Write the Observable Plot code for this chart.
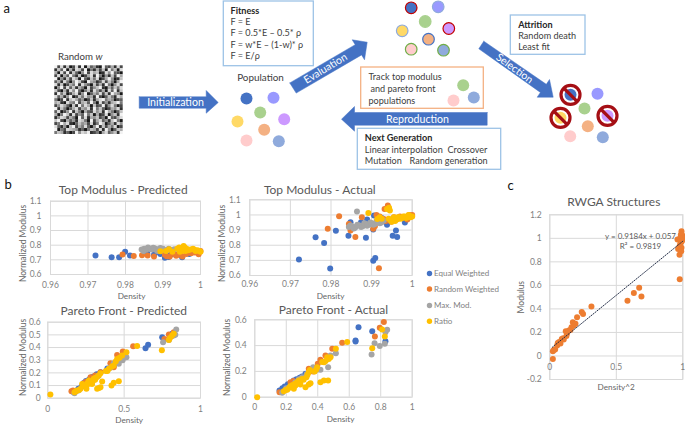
<!DOCTYPE html>
<html>
<head>
<meta charset="utf-8">
<script src="https://cdn.jsdelivr.net/npm/d3@7"></script>
<script src="https://cdn.jsdelivr.net/npm/@observablehq/plot@0.6"></script>
<style>
html,body{margin:0;padding:0;background:#fff;overflow:hidden}
#stage{position:relative;width:685px;height:425px}
#stage svg{position:absolute;left:0;top:0;background:transparent}
</style>
</head>
<body>
<div id="stage"></div>
<script>
// ---------- data ----------
const seriesNames = ["Equal Weighted","Random Weighted","Max. Mod.","Ratio"];
const seriesColors = ["#4472c4","#ed7d31","#a5a5a5","#ffc000"];

const topPred = [
 [[.972,.73],[.9763,.717],[.9783,.717],[.9799,.755],[.9812,.73],[.9858,.745],[.9876,.735],[.9893,.74],[.9905,.715],[.9915,.72],[.9935,.735],[.9951,.718],[.997,.74],[.992,.735],[.988,.75]],
 [[.9792,.736],[.9822,.726],[.9844,.731],[.9859,.73],[.9876,.722],[.9905,.735],[.9918,.722],[.9925,.745],[.9932,.738],[.9941,.735],[.9952,.722],[.9962,.74],[.9975,.745],[.9995,.738],[1,.76],[.991,.725],[.9935,.728],[.9945,.745],[.9985,.75]],
 [[.9843,.77],[.985,.775],[.9855,.768],[.986,.785],[.9865,.775],[.987,.77],[.9874,.782],[.9878,.778],[.9882,.768],[.9886,.772],[.9893,.78],[.9897,.768],[.99,.775],[.9908,.765],[.9915,.775],[.9922,.768],[.993,.772],[.9848,.76],[.9885,.76]],
 [[.9893,.758],[.9916,.772],[.9908,.76],[.9938,.775],[.9945,.755],[.9943,.785],[.9948,.77],[.9955,.795],[.9952,.77],[.9958,.785],[.996,.76],[.9963,.775],[.9967,.765],[.9973,.77],[.998,.776],[.9984,.768],[.9987,.76],[.9992,.765],[.9997,.76],[1,.755],[.9925,.755],[.995,.76]]
];
const topActual = [
 [[.9721,.706],[.9798,.646],[.9762,.853],[.9783,.814],[.9812,.895],[.9843,.862],[.9848,.952],[.9858,.915],[.9874,.952],[.9886,.849],[.9889,.97],[.9904,.904],[.9904,.697],[.9909,.715],[.9906,.996],[.9938,.935],[.9952,.862],[.996,.897],[.9963,.855],[.9982,.95],[.9925,.98],[.9945,.97]],
 [[.9792,.908],[.982,.992],[.9844,.94],[.9848,.897],[.986,.855],[.9876,.985],[.9904,.908],[.9918,.648],[.9912,1.0],[.9932,1.04],[.994,1.062],[.993,.974],[.9918,.985],[.9955,.985],[.9965,.975],[.997,.99],[.998,.985],[1,1.0],[.9988,.97],[.992,.99],[.9948,.955],[.9935,.96],[.9993,1.0],[.9908,.925]],
 [[.9864,1.023],[.9844,.92],[.9848,.93],[.9852,.925],[.9856,.91],[.986,.918],[.9865,.935],[.987,.93],[.9874,.92],[.9878,.925],[.9882,.945],[.9886,.94],[.9889,.928],[.9893,.935],[.9897,.95],[.99,.945],[.9904,.935],[.9908,.94],[.9912,.96],[.9916,.955],[.992,.945],[.9924,.95],[.993,.963]],
 [[.9892,1.012],[.9914,.974],[.992,.985],[.9925,.975],[.9943,1.047],[.9945,1.03],[.9938,1.04],[.9947,.963],[.9942,.975],[.995,.955],[.9955,.975],[.9958,.96],[.9962,.97],[.9965,.985],[.9968,.985],[.9972,.975],[.9975,.98],[.9978,.99],[.9982,.99],[.9985,.98],[.9988,.985],[.9991,1.0],[.9993,.995],[.9996,.985],[1,.99],[.9955,.985]]
];
const paretoPred = [
 [[.17,.047],[.2,.075],[.22,.09],[.236,.12],[.25,.135],[.269,.145],[.28,.16],[.29,.165],[.301,.171],[.32,.19],[.345,.205],[.39,.235],[.432,.26],[.476,.324],[.64,.395],[.657,.421],[.749,.482],[.814,.508]],
 [[.155,.055],[.165,.06],[.236,.118],[.25,.13],[.28,.166],[.31,.18],[.345,.205],[.41,.276],[.42,.27],[.432,.245],[.454,.342],[.491,.368],[.559,.41],[.764,.468],[.793,.503],[.825,.52],[.81,.49]],
 [[.175,.039],[.2,.06],[.24,.1],[.27,.13],[.3,.15],[.33,.175],[.39,.22],[.41,.24],[.432,.276],[.465,.271],[.49,.3],[.515,.324],[.755,.442],[.793,.46],[.825,.495],[.841,.542],[.835,.5]],
 [[.017,.029],[.585,.413],[.747,.379],[.515,.363],[.465,.134],[.432,.121],[.417,.1],[.356,.132],[.345,.087],[.323,.074],[.335,.08],[.253,.074],[.487,.337],[.47,.32],[.454,.31],[.445,.29],[.432,.258],[.42,.25],[.4,.232],[.38,.215],[.334,.179],[.345,.197],[.32,.165],[.28,.126],[.27,.115],[.236,.1],[.192,.06],[.175,.047],[.185,.055],[.214,.074],[.269,.14],[.26,.12],[.301,.153],[.31,.145],[.793,.46],[.814,.495],[.825,.508],[.8,.475],[.225,.113],[.29,.113],[.205,.065],[.31,.16],[.39,.215],[.245,.095],[.255,.105],[.295,.135]]
];
const paretoActual = [
 [[.157,.052],[.175,.07],[.19,.083],[.21,.1],[.248,.129],[.265,.14],[.285,.15],[.3,.16],[.322,.181],[.659,.543],[.746,.512],[.64,.44],[.64,.432],[.83,.434]],
 [[.157,.039],[.227,.116],[.245,.125],[.29,.142],[.343,.22],[.37,.2],[.4,.259],[.417,.29],[.449,.323],[.492,.375],[.555,.422],[.763,.471],[.794,.538],[.82,.582]],
 [[.174,.034],[.2,.07],[.258,.116],[.28,.14],[.301,.155],[.33,.18],[.371,.233],[.379,.202],[.4,.215],[.417,.212],[.466,.233],[.481,.323],[.515,.341],[.742,.331],[.761,.419],[.794,.396],[.826,.414],[.83,.504],[.841,.522]],
 [[.015,0],[.587,.427],[.746,.38],[.826,.471],[.809,.525],[.515,.375],[.466,.129],[.439,.129],[.417,.116],[.354,.109],[.343,.098],[.322,.078],[.248,.065],[.481,.31],[.47,.297],[.46,.31],[.428,.272],[.44,.27],[.396,.233],[.39,.215],[.343,.194],[.35,.21],[.328,.155],[.335,.175],[.28,.129],[.29,.098],[.216,.072],[.184,.047],[.195,.055],[.258,.09],[.265,.11],[.301,.142],[.206,.057],[.225,.085],[.235,.08],[.27,.115],[.29,.125],[.31,.135],[.38,.2],[.45,.28],[.24,.095],[.255,.105]]
];
const rwga = [[.023,-.025],[.023,.04],[.03,.05],[.04,.055],[.055,.09],[.06,.11],[.07,.118],[.08,.105],[.09,.145],[.1,.15],[.105,.14],[.12,.21],[.13,.19],[.125,.17],[.143,.217],[.155,.22],[.163,.245],[.173,.287],[.18,.26],[.193,.273],[.205,.33],[.24,.373],[.25,.356],[.313,.42],[.584,.47],[.632,.536],[.672,.58],[.689,.506],[.977,.653],[.96,.99],[.965,.91],[.975,.86],[.98,.95],[.985,1.0],[.99,1.06],[.985,1.03],[.99,.92],[.995,1.03],[1,1.0],[.99,.97],[.98,1.0],[.995,.98],[.975,.93],[.988,.89]];

const trendSlope = 0.9184, trendIntercept = 0.057, trendX = [0.02, 1];

const topXTicks = [.96,.97,.98,.99,1], topYTicks = [.6,.7,.8,.9,1,1.1];
const predXTicks = [0,.5,1], actualXTicks = [0,.2,.4,.6,.8,1], paretoYTicks = [0,.1,.2,.3,.4,.5,.6], paretoActualYTicks = [0,.2,.4,.6];
const cXTicks = [0,.5,1], cYTicks = [-.2,0,.2,.4,.6,.8,1,1.2];

const randomW = [
"92817028190735109326182","17390618729041627094708","60829173059286701859320","28063941702681940517296",
"90517286093174802695017","36184059720965138274069","81702649185307261940582","05928371640825791063748",
"72061859304718526083917","19470268159036482719650","83615902748561920374186","40291786350271689465023",
"67108549267394082516794","25863071948607239158402","91740368265819473026581","38025917406328571964037",
"60497182539470612805719","15872640938165724093268","79206351874092683517940","24968103756281497036185",
"83150792648305917264802","90428765130476281950376","47613029587912406835719"];

// ---------- diagram of panel a ----------
const dotPalette = {blue:"#4472c4",peri:"#9999ff",green:"#a9d18e",yellow:"#ffd966",purple:"#cc99ff",orange:"#f4b183",pink:"#ffcccc",steel:"#8faadc"};
const populationA = [["blue",246,98],["peri",273,97.3],["green",259.7,112],["yellow",237,121],["purple",283.7,118.7],["orange",263.7,129.3],["pink",246,140],["steel",278.3,140.7]];
const evaluated = [["blue",410.7,7.3,"#c00000"],["peri",437.7,6.3,"#8faadc"],["green",424.7,21,"#a9d18e"],["yellow",401.7,30.3,"#8faadc"],["purple",448.3,28,"#c00000"],["orange",428,38.7,"#4472c4"],["pink",410.7,48.7,"#70ad47"],["steel",443,49.7,"#70ad47"]];
const selected = [["blue",570,94.3],["peri",597,93.3],["green",584,108],["yellow",560,117.3],["purple",607,115.3],["orange",587.3,125.7],["pink",569.7,135.7],["steel",602.3,136.7]];
const tracked = [["green",462.7,84.7],["steel",473.3,97],["pink",453,100]];
const bans = [[570,94.3],[560,117.3],[607,115.3]];
const boxes = [
 [223.3,313.3,1,65.7,"#9dc3e6"],[510.3,585,15,54.3,"#9dc3e6"],[360.7,483.3,67,108.3,"#f4b183"],[357.3,500.7,128.3,169.3,"#9dc3e6"]
];
const arrows = [
 [[138.7,96.3],[205.7,96.3],[205.7,90],[217.7,102],[205.7,112.7],[205.7,107.7],[138.7,107.7]],
 [[289.3,82.4],[354.7,44.2],[351.7,39.3],[366.7,41.7],[364,59.3],[361.1,54.4],[295.7,92.6]],
 [[483.3,40.7],[545.8,83.8],[549,79],[552.7,96.7],[536.7,96.7],[539.9,91.9],[478.3,48.3]],
 [[486.7,112],[354,112],[354,106],[341,118.7],[354,130.7],[354,124.7],[486.7,124.7]]
];
const arrowLabels = [["Initialization",175,102,0],["Evaluation",325,68,-31],["Selection",514,68,36],["Reproduction",417,118.7,0]];
const diagramText = [
 ["Fitness",230,10.3,true],["F = E",230,22,false],["F = 0.5*E – 0.5* ρ",230,33,false],["F = w*E – (1-w)* ρ",230,45,false],["F = E/ρ",230,56,false],
 ["Attrition",517.7,24.5,true],["Random death",517.7,36,false],["Least fit",517.7,47,false],
 ["Track top modulus",368,77,false],["and pareto front",370,89,false],["populations",368,101,false],
 ["Next Generation",364.3,138,true],["Linear interpolation",364.3,149.5,false],["Crossover",447,149.5,false],["Mutation",364.3,161,false],["Random generation",409,161,false]
];
const panelLetters = [["a",3,8],["b",4,184],["c",507,185]];
const panelTitles = [["Top Modulus - Predicted",122.7,190],["Top Modulus - Actual",319.3,190],["Pareto Front - Predicted",123.3,310.3],["Pareto Front - Actual",333,309.5],["RWGA Structures",613.3,201.7]];
const xLabels = [["Density",131,296],["Density",330,296],["Density",128.7,420],["Density",340,419],["Density^2",615.7,387.3]];
const yLabels = [["Normalized Modulus",23,243],["Normalized Modulus",221.7,243],["Normalized Modulus",23,357],["Normalized Modulus",226.7,357],["Modulus",520.3,296.7]];
const legendY = [273,288.5,305,320.7];

// ---------- drawing ----------
const FONT = "Lato, 'Open Sans', sans-serif", GREY = "#7f7f7f", GRID = "#d9d9d9";
const W = 685, H = 425;
const stage = document.getElementById("stage");

function toTable(groups){
  return groups.flatMap((pts,i)=>pts.map(p=>({x:p[0],y:p[1],series:seriesNames[i]})));
}
function panel({table,xDomain,yDomain,box,xTicks,yTicks,xPad,yPad,r,fill,color,extra=[],hideXAxis=false}){
  const [l,rr,t,b]=box;
  return Plot.plot({
    width:W,height:H,marginLeft:l,marginRight:W-rr,marginTop:t,marginBottom:H-b,
    x:{domain:xDomain,axis:null},y:{domain:yDomain,axis:null},
    color:color,
    style:{fontFamily:FONT,fontSize:"8.5px",background:"transparent",overflow:"visible"},
    marks:[
      Plot.gridX(xTicks,{stroke:GRID,strokeOpacity:1,strokeWidth:1}),
      Plot.gridY(yTicks,{stroke:GRID,strokeOpacity:1,strokeWidth:1}),
      Plot.frame({stroke:GRID,strokeWidth:1}),
      hideXAxis ? null : Plot.axisX(xTicks,{tickSize:0,tickPadding:xPad,tickFormat:d=>String(d),label:null,color:GREY}),
      Plot.axisY(yTicks,{tickSize:0,tickPadding:yPad,tickFormat:d=>String(d),label:null,color:GREY}),
      ...extra,
      Plot.dot(table,{x:"x",y:"y",r,fill,stroke:null})
    ]
  });
}
const colorScale = {domain:seriesNames,range:seriesColors};
const charts = [
  panel({table:toTable(topPred),xDomain:[.96,1],yDomain:[.6,1.1],box:[50,200,200.7,274],xTicks:topXTicks,yTicks:topYTicks,xPad:7,yPad:9,r:3,fill:"series",color:colorScale}),
  panel({table:toTable(topActual),xDomain:[.96,1],yDomain:[.6,1.1],box:[249.3,411.7,199.3,275],xTicks:topXTicks,yTicks:topYTicks,xPad:5,yPad:9,r:3,fill:"series",color:colorScale}),
  panel({table:toTable(paretoPred),xDomain:[0,1],yDomain:[0,.6],box:[47.3,200,321.7,397.7],xTicks:predXTicks,yTicks:paretoYTicks,xPad:8,yPad:7,r:3,fill:"series",color:colorScale}),
  panel({table:toTable(paretoActual),xDomain:[0,1],yDomain:[0,.6],box:[254.3,411.7,319.3,396.7],xTicks:actualXTicks,yTicks:paretoActualYTicks,xPad:7,yPad:8,r:3,fill:"series",color:colorScale}),
  panel({table:rwga.map(p=>({x:p[0],y:p[1]})),xDomain:[0,1],yDomain:[-.2,1.2],box:[549.3,682.3,214.3,379],xTicks:cXTicks,yTicks:cYTicks,xPad:7,yPad:8,r:3,fill:"#ed7d31",hideXAxis:true,
    extra:[Plot.text(cXTicks,{x:d=>d,y:0,dy:11,text:d=>String(d),fill:GREY})]})
];
// trendline drawn over the panel c dots
const trendPlot = Plot.plot({
  width:W,height:H,marginLeft:549.3,marginRight:W-682.3,marginTop:214.3,marginBottom:H-379,
  x:{domain:[0,1],axis:null},y:{domain:[-.2,1.2],axis:null},
  style:{background:"transparent",overflow:"visible"},
  marks:[Plot.line(trendX.map(x=>({x,y:trendSlope*x+trendIntercept})),{x:"x",y:"y",stroke:"#1f2a44",strokeWidth:1,strokeDasharray:"1,1.5"})]
});

const gridCells = randomW.flatMap((row,j)=>[...row].map((c,i)=>{
  const v=+c, g=Math.round(25+v*24);
  const n=randomW.length, s=68.4/n;
  return {x1:54.3+i*s,x2:54.3+(i+1)*s,y1:65.3+j*(68.7/n),y2:65.3+(j+1)*(68.7/n),c:`rgb(${g},${g},${g})`};
}));
const dotRows = rows=>rows.map(r=>({x:r[1],y:r[2],c:dotPalette[r[0]],s:r[3]||"none"}));
const textMark=(rows,o)=>Plot.text(rows,{x:d=>d[1],y:d=>d[2],text:d=>d[0],lineAnchor:"middle",...o});
const blur=(index,scales,values,dims,ctx,next)=>{const g=next(index,scales,values,dims,ctx);g.style.filter="blur(0.45px)";return g;};
const overlay = Plot.plot({
  width:W,height:H,margin:0,
  x:{domain:[0,W],axis:null},y:{domain:[H,0],axis:null},
  color:{type:"identity"},
  style:{fontFamily:FONT,fontSize:"9px",background:"transparent"},
  marks:[
    Plot.rect(gridCells,{x1:"x1",x2:"x2",y1:"y1",y2:"y2",fill:"c",render:blur}),
    Plot.rect(boxes,{x1:d=>d[0],x2:d=>d[1],y1:d=>d[2],y2:d=>d[3],fill:"#fff",stroke:d=>d[4],strokeWidth:1.3}),
    ...arrows.map(a=>Plot.line(a.concat([a[0]]),{x:d=>d[0],y:d=>d[1],fill:"#4472c4",stroke:"#4472c4",strokeWidth:.5})),
    Plot.dot(dotRows(populationA),{x:"x",y:"y",r:6,fill:"c",stroke:null}),
    Plot.dot(dotRows(evaluated),{x:"x",y:"y",r:5.8,fill:"c",stroke:"s",strokeWidth:1.2}),
    Plot.dot(dotRows(tracked),{x:"x",y:"y",r:6,fill:"c",stroke:null}),
    Plot.dot(bans,{x:d=>d[0],y:d=>d[1],r:10,fill:"#fff",stroke:null}),
    Plot.dot(dotRows(selected),{x:"x",y:"y",r:6,fill:"c",stroke:null}),
    Plot.dot(bans,{x:d=>d[0],y:d=>d[1],r:9.5,fill:"none",stroke:"#a50f15",strokeWidth:3.2}),
    Plot.link(bans,{x1:d=>d[0]-6.8,y1:d=>d[1]-6.8,x2:d=>d[0]+6.8,y2:d=>d[1]+6.8,stroke:"#a50f15",strokeWidth:3.2}),
    ...arrowLabels.map(l=>Plot.text([l],{x:d=>d[1],y:d=>d[2],text:d=>d[0],rotate:l[3],fill:"#fff",fontSize:10.6})),
    textMark(diagramText.filter(d=>d[3]),{textAnchor:"start",fontWeight:"bold",fill:"#262626",fontSize:9.1}),
    textMark(diagramText.filter(d=>!d[3]),{textAnchor:"start",fill:"#404040",fontSize:9.1}),
    textMark([["Population",260,77.7]],{fill:"#404040",fontSize:9.9}),
    textMark([["Random ",95,56.7]],{textAnchor:"end",fill:"#404040",fontSize:9.7}),
    textMark([["w",95,56.7]],{textAnchor:"start",fill:"#404040",fontSize:9.7,fontStyle:"italic"}),
    textMark(panelLetters,{fill:"#111",fontSize:13,textAnchor:"start"}),
    textMark(panelTitles,{fill:"#595959",fontSize:12}),
    textMark(xLabels,{fill:"#666",fontSize:8.2}),
    ...yLabels.map(l=>textMark([l],{fill:"#666",fontSize:8.5,rotate:-90})),
    textMark([["y = 0.9184x + 0.057",640,235.7],["R² = 0.9819",640,246]],{fill:"#595959",fontSize:8}),
    Plot.dot(seriesNames.map((n,i)=>({y:legendY[i],c:seriesColors[i]})),{x:()=>429,y:"y",r:2.7,fill:"c",stroke:null}),
    Plot.text(seriesNames.map((n,i)=>({n,y:legendY[i]})),{x:()=>433.5,y:"y",text:"n",textAnchor:"start",fill:GREY,fontSize:8})
  ]
});
charts.forEach(c=>stage.append(c));
stage.append(overlay);
stage.append(trendPlot);
</script>
</body>
</html>
